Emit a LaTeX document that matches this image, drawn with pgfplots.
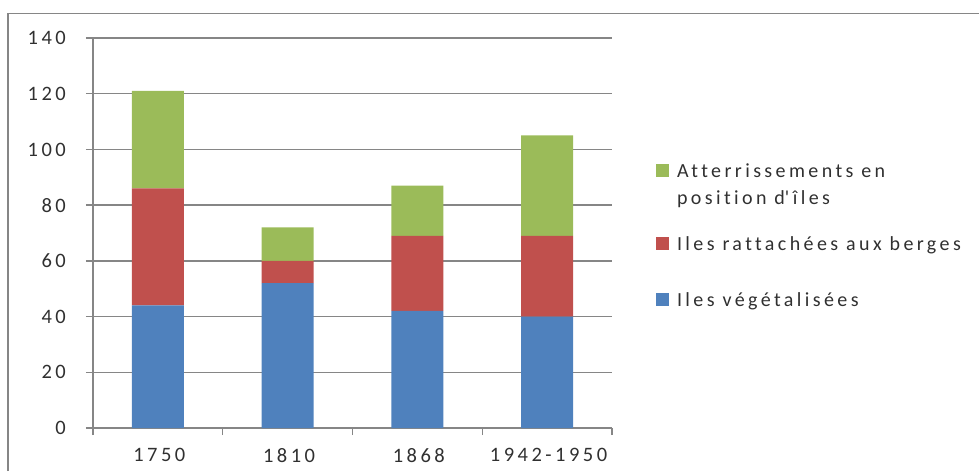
\documentclass[border=0pt]{standalone}
\usepackage{fontspec}
\setmainfont{Carlito}[LetterSpace=17, Ligatures={NoCommon}]
\usepackage{pgfplots}
\pgfplotsset{compat=1.18}
\definecolor{sblue}{HTML}{4F81BD}
\definecolor{sred}{HTML}{C0504D}
\definecolor{sgreen}{HTML}{9BBB59}
\definecolor{gridgray}{HTML}{868686}
\definecolor{txt}{HTML}{303030}
% square legend image, #1 = extra depth below baseline (sets row spacing)
\pgfplotsset{sq/.style={legend image code/.code={%
    \fill[##1] (0pt,0pt) rectangle (13pt,13pt);
    \path[draw=none, fill=none] (0pt,-#1) -- (0pt,15pt);}}}

\begin{document}
\begin{tikzpicture}
\useasboundingbox (0,0) rectangle (979pt,471pt);
\draw[gridgray, line width=1.3pt] (8pt,0pt) -- (8pt,457.5pt) -- (979pt,457.5pt);
\begin{axis}[
    at={(93pt,43pt)}, anchor=south west,
    scale only axis, width=519pt, height=390pt,
    ybar stacked, bar width=52pt,
    xmin=-0.5, xmax=3.5, ymin=0, ymax=140,
    ytick={0,20,...,140},
    xtick={0,1,2,3}, xticklabels={1750,1810,1868,1942-1950},
    axis x line=bottom, axis y line=left,
    axis line style={-, gridgray, line width=1.3pt},
    ymajorgrids, grid style={gridgray, line width=1.3pt},
    tick align=outside, major tick length=7pt,
    ytick style={gridgray, line width=1.3pt},
    xtick style={draw=none},
    extra x ticks={-0.5,0.5,1.5,2.5,3.5}, extra x tick labels={},
    extra x tick style={grid=none, xtick style={draw=gridgray, line width=1.3pt}},
    /pgf/number format/assume math mode=true,
    tick label style={font=\fontsize{20.5}{24}\selectfont, text=txt, inner sep=0pt},
    yticklabel style={anchor=east, xshift=-20pt},
    xticklabel style={anchor=north, yshift=-13pt, xshift=1.5pt},
    reverse legend,
    legend style={at={(1.0848,0.682)}, anchor=north west, draw=none, fill=none,
        inner sep=0pt, outer sep=0pt, row sep=0pt, column sep=8pt,
        font=\fontsize{20}{27}\selectfont, text=txt,
        nodes={anchor=base west, inner sep=0pt}},
]
\addplot[draw=none, fill=sblue, sq=5pt]
    coordinates {(0,44) (1,52) (2,42) (3,40)};
\addlegendentry{Iles végétalisées}
\addplot[draw=none, fill=sred, sq=41pt]
    coordinates {(0,42) (1,8) (2,27) (3,29)};
\addlegendentry{Iles rattachées aux berges}
\addplot[draw=none, fill=sgreen, sq=58pt]
    coordinates {(0,35) (1,12) (2,18) (3,36)};
\addlegendentry{\parbox[t]{300pt}{Atterrissements en\\position d\textquotesingle\kern3.4pt îles}}
\end{axis}
\end{tikzpicture}
\end{document}
